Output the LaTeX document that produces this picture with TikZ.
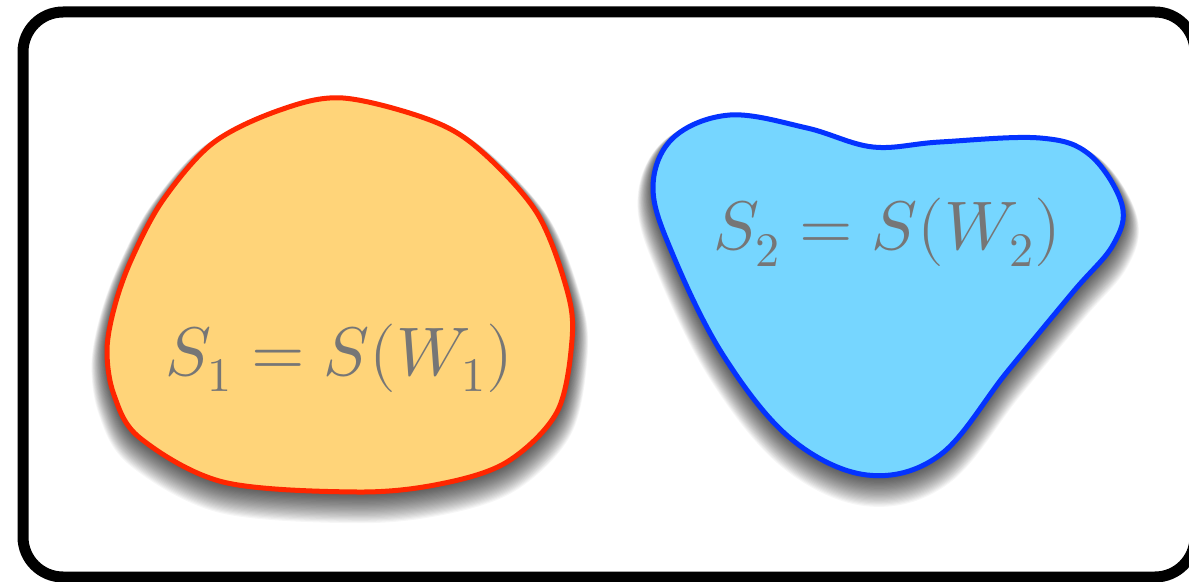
\documentclass[tikz,border=0pt]{standalone}
\usepackage{unicode-math}
\setmathfont{Latin Modern Math}
\definecolor{cantaloupe}{RGB}{255,212,121}
\definecolor{redline}{RGB}{255,38,0}
\definecolor{skyfill}{RGB}{118,214,255}
\definecolor{blueline}{RGB}{4,51,255}
\definecolor{labelgray}{RGB}{118,118,118}
\newcommand\blobApath{plot[smooth cycle, tension=0.55] coordinates {(343,98) (430,120) (480,150) (537,213) (567,290) (572,340) (557,412) (507,462) (440,484) (357,492) (223,482) (140,438) (114,395) (107,350) (115,305) (132,258) (163,200) (213,143) (280,110)}}
\newcommand\blobBpath{plot[smooth cycle, tension=0.6] coordinates {(730,115) (807,128) (873,147) (940,142) (1040,138) (1090,155) (1122,205) (1113,245) (1073,292) (1007,372) (940,455) (867,475) (790,438) (723,355) (673,255) (653,188) (673,138)}}
\tikzset{
  blobstroke/.style={line width=5bp, line join=round},
  shadowlayer/.style={fill=black, draw=black, line join=round},
  setlabel/.style={text=labelgray, font=\fontsize{69}{72}\selectfont, anchor=base, inner sep=0pt},
  frame/.style={draw=black, line width=11bp, rounded corners=40bp}
}
\begin{document}
\begin{tikzpicture}[x=1bp, y=-1bp]
\useasboundingbox (0,0) rectangle (1189,582);
\clip (0,0) rectangle (1189,582);
\fill[white] (0,0) rectangle (1189,582);
% soft drop shadows
\foreach \k in {1,...,26} {
  \begin{scope}[shift={(0,0.6*\k)}, transparency group, opacity=0.035]
    \path[shadowlayer, line width=1.2*\k bp] \blobApath;
    \path[shadowlayer, line width=1.2*\k bp] \blobBpath;
  \end{scope}
}
% blobs
\path[blobstroke, fill=cantaloupe, draw=redline] \blobApath;
\path[blobstroke, fill=skyfill, draw=blueline] \blobBpath;
\node[setlabel] (s1) at (339,375) {$S_1 = S(W_1)$};
\node[setlabel] (s2) at (887,250) {$S_2 = S(W_2)$};
% frame
\draw[frame] (23,12) rectangle (1195,577);
\end{tikzpicture}
\end{document}
